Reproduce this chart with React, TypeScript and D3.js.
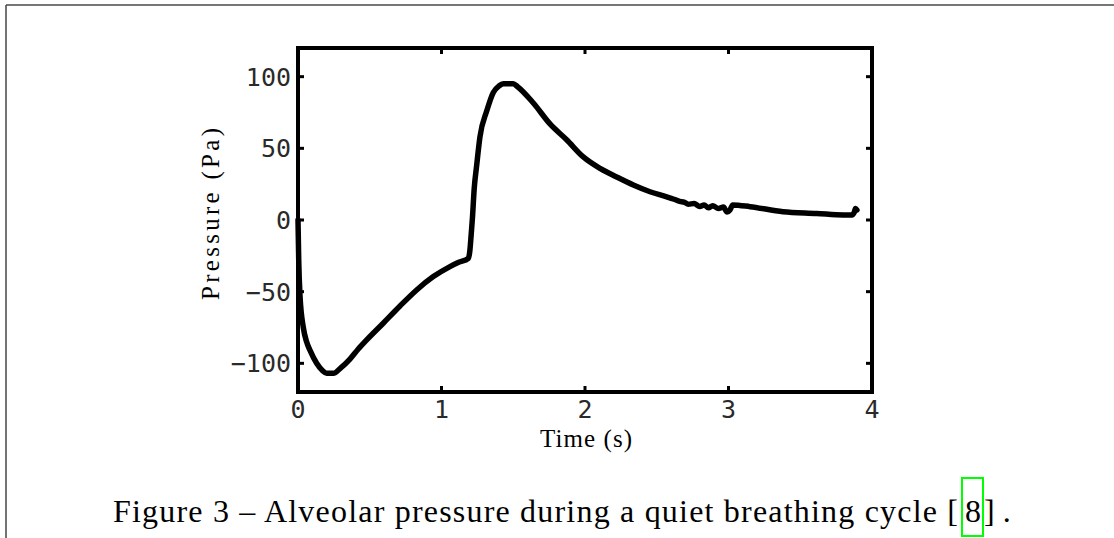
import React from "react";
import * as d3 from "d3";

const timeS = [0, 0.005, 0.014, 0.037, 0.06, 0.084, 0.13, 0.17, 0.2, 0.246, 0.3, 0.362, 0.42, 0.479, 0.594, 0.711, 0.827, 0.943, 1.059, 1.12, 1.187, 1.197, 1.207, 1.216, 1.228, 1.245, 1.268, 1.315, 1.361, 1.4, 1.431, 1.5, 1.53, 1.64, 1.756, 1.872, 1.988, 2.105, 2.221, 2.337, 2.453, 2.569, 2.62, 2.66, 2.69, 2.72, 2.76, 2.8, 2.83, 2.86, 2.89, 2.93, 2.965, 2.99, 3.01, 3.03, 3.15, 3.38, 3.615, 3.8, 3.86, 3.875, 3.885, 3.895];
const pressurePa = [0, -28, -53, -75, -85, -91, -100, -105, -107, -107, -103, -97, -90, -83.6, -72, -60, -48.8, -39.5, -32.5, -29.5, -26.7, -22, -10, 2, 22, 38, 58, 76, 89, 93.5, 95, 95, 93, 81.6, 67, 56, 44, 36, 30, 24.4, 19.7, 16.2, 14.5, 13, 12.5, 11, 11.5, 9.5, 10.5, 8.5, 10, 8, 9, 5.5, 7, 10.5, 9.3, 5.8, 4.6, 3.5, 3.5, 5, 8, 7];

const xTicks = [0, 1, 2, 3, 4];
const yTicks = [-100, -50, 0, 50, 100];

export default function App() {
  const W = 1114, H = 538;
  const x = d3.scaleLinear().domain([0, 4]).range([298, 872]);
  const y = d3.scaleLinear().domain([-120, 120]).range([392, 48]);
  const data = timeS.map((t, i) => [t, pressurePa[i]] as [number, number]);
  const line = d3.line<[number, number]>().x(d => x(d[0])).y(d => y(d[1])).curve(d3.curveMonotoneX);
  const tickFont = "'DejaVu Sans Mono', monospace";
  const serif = "'Liberation Serif', 'Times New Roman', serif";
  const fmt = (v: number) => (v < 0 ? "\u2212" + Math.abs(v) : String(v));
  return (
    <svg width={W} height={H} style={{ position: "absolute", left: 0, top: 0, background: "#fff" }}>
      <line x1={6} y1={5} x2={W} y2={5} stroke="#777" strokeWidth={2} />
      <line x1={6} y1={5} x2={6} y2={H} stroke="#444" strokeWidth={1.5} />
      <path d={line(data) || ""} fill="none" stroke="#000" strokeWidth={5.5} strokeLinejoin="round" strokeLinecap="round" />
      <rect x={x(0)} y={y(120)} width={x(4) - x(0)} height={y(-120) - y(120)} fill="none" stroke="#000" strokeWidth={4} />
      {xTicks.map(t => (
        <g key={"x" + t}>
          <line x1={x(t)} x2={x(t)} y1={y(-120)} y2={y(-120) - 6} stroke="#000" strokeWidth={3} />
          <line x1={x(t)} x2={x(t)} y1={y(120)} y2={y(120) + 6} stroke="#000" strokeWidth={3} />
          <text x={x(t)} y={418} textAnchor="middle" fontFamily={tickFont} fontSize={25} fill="#2a2a2a">{fmt(t)}</text>
        </g>
      ))}
      {yTicks.map(v => (
        <g key={"y" + v}>
          <line x1={x(0)} x2={x(0) + 6} y1={y(v)} y2={y(v)} stroke="#000" strokeWidth={3} />
          <line x1={x(4)} x2={x(4) - 6} y1={y(v)} y2={y(v)} stroke="#000" strokeWidth={3} />
          <text x={291} y={y(v) + 9} textAnchor="end" fontFamily={tickFont} fontSize={25} fill="#2a2a2a">{fmt(v)}</text>
        </g>
      ))}
      <text x={586} y={447} textAnchor="middle" fontFamily={serif} fontSize={25} textLength={92} lengthAdjust="spacing" fill="#000">Time (s)</text>
      <text transform="translate(219,214) rotate(-90)" textAnchor="middle" fontFamily={serif} fontSize={25} textLength={172} lengthAdjust="spacing" fill="#000">Pressure (Pa)</text>
      <text x={113} y={522} fontFamily={serif} fontSize={32} textLength={845} lengthAdjust="spacing" fill="#000">Figure 3 – Alveolar pressure during a quiet breathing cycle [</text>
      <text x={965} y={522} fontFamily={serif} fontSize={32} fill="#000">8</text>
      <text x={984} y={522} fontFamily={serif} fontSize={32} fill="#000">] .</text>
      <rect x={962} y={478} width={21} height={58} fill="none" stroke="#00ff00" strokeWidth={2} />
    </svg>
  );
}
